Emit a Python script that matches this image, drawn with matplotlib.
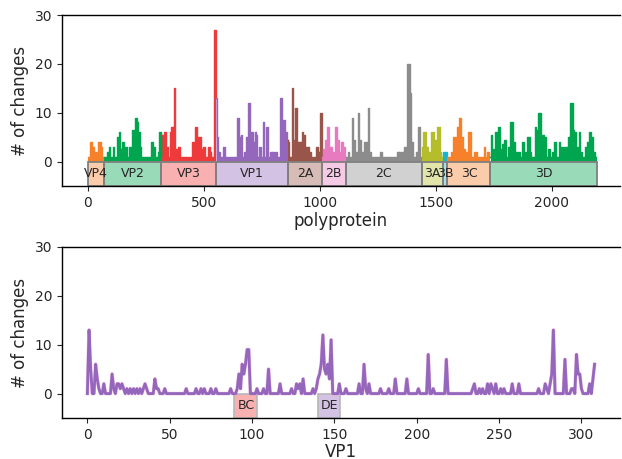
import numpy as np
import matplotlib
matplotlib.use("Agg")
import matplotlib.pyplot as plt
from matplotlib.patches import Rectangle

# protein regions along the polyprotein
regions = ['VP4', 'VP2', 'VP3', 'VP1', '2A', '2B', '2C', '3A', '3B', '3C', '3D']
region_start = [0, 69, 317, 553, 862, 1010, 1111, 1439, 1529, 1550, 1735]
region_end = [69, 317, 553, 862, 1010, 1111, 1439, 1529, 1550, 1735, 2193]
region_colors = ['#f7812b', '#00a64f', '#ee3a3a', '#9467bd', '#99554a', '#e87bbf',
                 '#8c8c8c', '#b5be2a', '#17b5cf', '#f7812b', '#00a64f']

# changes per polyprotein position (background level 1, peaks below)
poly_length = 2193
poly_base = 1
poly_peak_pos = [16, 23, 37, 47, 53, 59,
                 86, 95, 112, 129, 138, 143, 152, 162, 168, 183, 197, 202, 209, 215, 221, 226, 278, 287, 307, 312,
                 320, 333, 345, 358, 365, 375, 381, 393, 453, 467, 476, 484, 493, 502, 523, 530, 548,
                 554, 560, 566, 587, 648, 656, 663, 676, 684, 694, 698, 708, 716, 723, 728, 743, 757, 770, 774,
                 790, 800, 812, 834, 846, 854, 860,
                 866, 883, 890, 899, 910, 918, 926, 935, 944, 952, 960, 989, 998, 1006,
                 1017, 1026, 1035, 1041, 1049, 1058, 1070, 1078, 1087, 1095, 1104,
                 1124, 1141, 1147, 1156, 1167, 1176, 1185, 1193, 1198, 1210, 1219, 1265, 1336, 1345, 1359,
                 1368, 1374, 1380, 1385, 1391, 1397, 1416, 1426, 1430,
                 1445, 1450, 1455, 1462, 1470, 1483, 1490, 1497, 1508, 1514, 1520,
                 1533, 1540, 1546,
                 1568, 1577, 1582, 1593, 1598, 1603, 1607, 1614, 1620, 1629, 1641, 1646, 1669, 1674, 1709, 1726,
                 1740, 1749, 1758, 1762, 1770, 1775, 1781, 1789, 1798, 1815, 1825, 1831, 1838, 1850, 1857,
                 1875, 1884, 1896, 1900, 1907, 1929, 1938, 1944, 1948, 1955, 1961, 1970, 1988, 2002, 2011,
                 2016, 2033, 2042, 2050, 2059, 2064, 2073, 2083, 2087, 2093, 2102, 2110, 2119, 2128, 2144,
                 2153, 2165, 2174, 2182]
poly_peak_val = [4, 3, 2, 4, 4, 3,
                 2, 3, 3, 5, 6, 2.5, 4, 3, 3, 3, 6.5, 6.5, 9, 8, 6, 3, 4, 3, 2, 6,
                 5.5, 6, 3, 6, 7, 15, 2.5, 3, 4, 7, 5, 5, 2.5, 3, 3, 2, 27,
                 13, 5, 2, 3, 9, 5, 5.5, 2, 5, 12, 11, 6, 4, 6, 5.5, 3, 8, 7, 7,
                 2, 2, 2, 13, 8.5, 6, 4.5,
                 4, 15, 4.5, 11, 4, 4, 6, 5.5, 3, 3, 2, 3, 2, 10,
                 2.5, 4.5, 7, 3, 3, 2, 7, 4.5, 2, 4, 3,
                 2, 9, 4.5, 2, 10, 4.5, 2, 4, 4, 11, 2, 2, 2, 2, 2,
                 3, 2, 20, 20, 14, 4, 2, 7, 7,
                 3, 6, 6, 3, 2, 6, 6, 4.5, 7, 7, 2,
                 2, 2, 2,
                 2, 5, 5, 7, 7, 9, 9, 5, 2.5, 2, 6, 6, 2, 2, 3, 2,
                 5.5, 2.5, 6, 6, 7, 7, 2.5, 3.5, 4.5, 3, 8, 8, 4, 2, 2,
                 4, 2, 5, 5, 2, 7, 6.5, 10, 10, 5, 5.5, 5, 2.5, 2, 4,
                 4, 4, 3, 3, 3, 3, 5, 12, 12, 6.5, 6, 3, 6, 2, 3,
                 4, 6, 5, 2]

# changes per VP1 position (zero where not listed)
vp1_length = 309
vp1_pos = [1, 2, 5, 6, 7, 10, 15, 16, 18, 19, 20, 21, 22, 24, 26, 28, 30, 32, 34, 35, 36,
           41, 42, 43, 47, 60, 66, 69, 71, 75, 78, 87, 91, 92, 93, 94, 95, 96, 97, 98,
           103, 107, 110, 117, 124, 127, 128, 129, 131, 137, 139, 140, 141, 142, 143, 144, 145,
           146, 147, 148, 153, 157, 165, 168, 169, 171, 178, 183, 187, 194, 201, 207, 210, 218,
           234, 235, 238, 240, 243, 245, 246, 248, 251, 253, 258, 262, 274, 278, 279, 281, 282,
           283, 290, 294, 295, 297, 298, 299, 300, 305, 307, 308]
vp1_val = [13, 5, 6, 3, 1, 2, 4, 1, 2, 2, 1, 2, 1, 1, 1, 1, 1, 1, 1, 2, 1,
           3, 1, 1, 1, 1, 1, 1, 1, 1, 1, 1, 1, 4, 1, 6, 4, 6, 9, 9,
           1, 1, 5, 2, 1, 2, 1, 2, 3, 1, 1, 3, 4, 6, 12, 5, 4,
           6, 3, 11, 2, 1, 2, 6, 1, 2, 1, 1, 3, 3, 1, 8, 1, 7,
           1, 2, 1, 1, 2, 2, 1, 2, 1, 1, 2, 2, 1, 2, 1, 2, 4,
           13, 7, 1, 1, 8, 4, 4, 1, 2, 3, 6]

# loops marked on VP1
loops = ['BC', 'DE']
loop_start = [89.2, 140.2]
loop_end = [103.3, 153.5]
loop_colors = ['#ee3a3a', '#9467bd']

text_color = '#262626'

poly = np.full(poly_length, float(poly_base))
for p, v in zip(poly_peak_pos, poly_peak_val):
    poly[p - 3:p + 4] = np.maximum(poly[p - 3:p + 4], v)
poly_x = np.arange(poly_length)

vp1 = np.zeros(vp1_length)
vp1[vp1_pos] = vp1_val
vp1_x = np.arange(vp1_length)

fig = plt.figure(figsize=(6.22, 4.59), dpi=100)
ax1 = fig.add_axes([0.0997, 0.5948, 0.897, 0.3725])
ax2 = fig.add_axes([0.0997, 0.0893, 0.897, 0.3726])

# top panel: polyprotein
for name, s, e, c in zip(regions, region_start, region_end, region_colors):
    xs = poly_x[s:e + 1]
    ys = poly[s:e + 1]
    ax1.fill_between(xs, ys, 0, step='mid', color=c, lw=0)
    ax1.step(xs, ys, where='mid', color=c, lw=1.0)
    ax1.add_patch(Rectangle((s, -5), e - s, 5, facecolor=c, alpha=0.4, edgecolor='none'))
    ax1.add_patch(Rectangle((s, -5), e - s, 5, facecolor='none', edgecolor='#808080', lw=1.3))
    ax1.text((s + e) / 2, -2.5, name, ha='center', va='center', fontsize=9, color=text_color)

ax1.set_ylim(-5, 30)
ax1.set_xlim(-110, poly_length + 100)
ax1.set_yticks([0, 10, 20, 30])
ax1.set_xticks([0, 500, 1000, 1500, 2000])
ax1.set_xlabel('polyprotein', fontsize=12, color=text_color, labelpad=2)
ax1.set_ylabel('# of changes', fontsize=12, color=text_color)

# bottom panel: VP1
ax2.plot(vp1_x, vp1, color='#e377c2', lw=2.6, alpha=0.45)
ax2.plot(vp1_x, vp1, color='#9467bd', lw=2.0)
for name, s, e, c in zip(loops, loop_start, loop_end, loop_colors):
    ax2.add_patch(Rectangle((s, -5), e - s, 5, facecolor=c, alpha=0.4, edgecolor='none'))
    ax2.add_patch(Rectangle((s, -5), e - s, 5, facecolor='none', edgecolor='#b8b8b8', lw=1.2))
    ax2.text((s + e) / 2, -2.5, name, ha='center', va='center', fontsize=9, color=text_color)

ax2.set_ylim(-5, 30)
ax2.set_xlim(-15.4, 323.4)
ax2.set_yticks([0, 10, 20, 30])
ax2.set_xticks([0, 50, 100, 150, 200, 250, 300])
ax2.set_xlabel('VP1', fontsize=12, color=text_color, labelpad=1)
ax2.set_ylabel('# of changes', fontsize=12, color=text_color)

for ax in (ax1, ax2):
    ax.spines['right'].set_visible(False)
    ax.tick_params(labelsize=10, colors=text_color)
    for sp in ax.spines.values():
        sp.set_linewidth(1.0)

fig.savefig('out.png', dpi=100)
